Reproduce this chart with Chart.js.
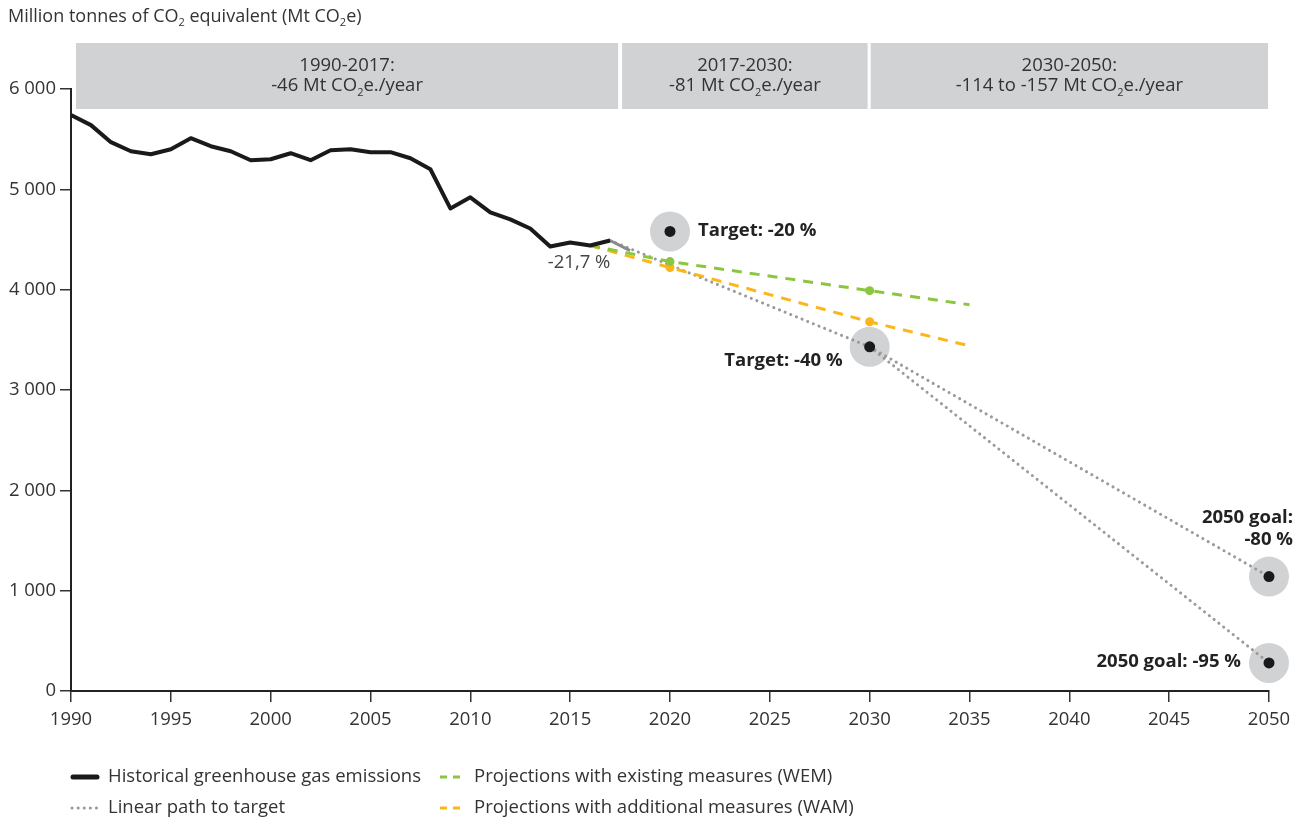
<!DOCTYPE html>
<html lang="en">
<head>
  <meta charset="UTF-8" />
  <title>Greenhouse gas emissions, projections and targets</title>
  <script src="https://cdn.jsdelivr.net/npm/chart.js"></script>
  <style>
    html, body {
      margin: 0;
      padding: 0;
      background: #ffffff;
    }
    .wrap {
      width: 1306px;
      height: 825px;
    }
  </style>
</head>
<body>
  <div class="wrap"><canvas id="ghgChart" width="1306" height="825"></canvas></div>

  <script>
    // historical emissions, Mt CO2e
    const histYears = [1990, 1991, 1992, 1993, 1994, 1995, 1996, 1997, 1998, 1999,
                       2000, 2001, 2002, 2003, 2004, 2005, 2006, 2007, 2008, 2009,
                       2010, 2011, 2012, 2013, 2014, 2015, 2016, 2017];
    const histValues = [5740, 5640, 5470, 5380, 5350, 5400, 5510, 5430, 5380, 5290,
                        5300, 5360, 5290, 5390, 5400, 5370, 5370, 5310, 5200, 4810,
                        4920, 4770, 4700, 4610, 4430, 4470, 4440, 4490];

    // proxy estimate
    const proxyYears = [2017, 2018];
    const proxyValues = [4490, 4390];

    // linear paths to target
    const path80Years = [2017, 2030, 2050];
    const path80Values = [4490, 3430, 1140];
    const path95Years = [2030, 2050];
    const path95Values = [3430, 280];

    // projections
    const projYears = [2016, 2020, 2030, 2035];
    const wemValues = [4440, 4280, 3990, 3850];
    const wamValues = [4440, 4220, 3680, 3440];

    // targets
    const targetYears = [2020, 2030, 2050, 2050];
    const targetValues = [4580, 3430, 1140, 280];
    const targetLabels = [['Target: -20 %'], ['Target: -40 %'], ['2050 goal:', '-80 %'], ['2050 goal: -95 %']];

    // period boxes
    const periodFrom = [1990, 2017, 2030];
    const periodTo = [2017, 2030, 2050];
    const periodNames = ['1990-2017:', '2017-2030:', '2030-2050:'];
    const periodRates = ['-46 Mt CO₂e./year', '-81 Mt CO₂e./year', '-114 to -157 Mt CO₂e./year'];

    const yTicks = [0, 1000, 2000, 3000, 4000, 5000, 6000];
    const xTicks = [1990, 1995, 2000, 2005, 2010, 2015, 2020, 2025, 2030, 2035, 2040, 2045, 2050];

    const FONT = '"Open Sans", "Noto Sans", sans-serif';
    const GREEN = '#8cc63f';
    const ORANGE = '#fbb61a';
    const DOTGREY = '#9a9a9a';
    const TXT = 18.5;

    const pts = (xs, ys) => xs.map((x, i) => ({ x: x, y: ys[i] }));
    const fmt = v => String(v).replace(/\B(?=(\d{3})+(?!\d))/g, ' ');

    // draw text where "₂" becomes a small lowered 2
    function drawSub(ctx, str, x, y, size, weight, align, color) {
      const base = weight + ' ' + size + 'px ' + FONT;
      const sub = weight + ' ' + Math.round(size * 0.62) + 'px ' + FONT;
      const parts = str.split('₂');
      let total = 0;
      parts.forEach((p, i) => {
        ctx.font = base; total += ctx.measureText(p).width;
        if (i < parts.length - 1) { ctx.font = sub; total += ctx.measureText('2').width; }
      });
      let cx = align === 'center' ? x - total / 2 : align === 'right' ? x - total : x;
      ctx.textAlign = 'left';
      ctx.textBaseline = 'middle';
      ctx.fillStyle = color;
      parts.forEach((p, i) => {
        ctx.font = base; ctx.fillText(p, cx, y); cx += ctx.measureText(p).width;
        if (i < parts.length - 1) {
          ctx.font = sub; ctx.fillText('2', cx, y + size * 0.35); cx += ctx.measureText('2').width;
        }
      });
    }

    const decor = {
      id: 'decor',
      afterDraw(chart) {
        const ctx = chart.ctx;
        const xs = chart.scales.x, ys = chart.scales.y;
        const top = chart.chartArea.top;
        ctx.save();

        // axis title
        drawSub(ctx, 'Million tonnes of CO₂ equivalent (Mt CO₂e)', 8, 17, 18, 'normal', 'left', '#333');

        // period boxes
        const padL = [5, 12, 1], padR = [-8, 2, 1];
        periodFrom.forEach((f, i) => {
          const l = xs.getPixelForValue(f) + padL[i];
          const r = xs.getPixelForValue(periodTo[i]) - padR[i];
          ctx.fillStyle = '#d1d2d4';
          ctx.fillRect(l, top - 46, r - l, 66);
          const c = (l + r) / 2;
          drawSub(ctx, periodNames[i], c, top - 23, TXT, 'normal', 'center', '#333');
          drawSub(ctx, periodRates[i], c, top - 3, TXT, 'normal', 'center', '#333');
        });

        // target labels
        const tp = targetYears.map((yr, i) => ({ x: xs.getPixelForValue(yr), y: ys.getPixelForValue(targetValues[i]) }));
        drawSub(ctx, targetLabels[0][0], tp[0].x + 28, tp[0].y - 1, TXT, 'bold', 'left', '#222');
        drawSub(ctx, targetLabels[1][0], tp[1].x - 27, tp[1].y + 14, TXT, 'bold', 'right', '#222');
        drawSub(ctx, targetLabels[2][0], tp[2].x + 24, tp[2].y - 59, TXT, 'bold', 'right', '#222');
        drawSub(ctx, targetLabels[2][1], tp[2].x + 24, tp[2].y - 37, TXT, 'bold', 'right', '#222');
        drawSub(ctx, targetLabels[3][0], tp[3].x - 28, tp[3].y - 1, TXT, 'bold', 'right', '#222');

        // 2017 change label
        const lx = xs.getPixelForValue(2017), ly = ys.getPixelForValue(4490);
        drawSub(ctx, '-21,7 %', lx - 31, ly + 22, TXT, 'normal', 'center', '#444');

        // legend
        const rows = [
          [{ ds: 0, x: 70 }, { ds: 4, x: 440 }],
          [{ ds: 2, x: 70 }, { ds: 5, x: 440 }]
        ];
        const rowY = [777, 808];
        rows.forEach((row, r) => {
          row.forEach(item => {
            const d = chart.data.datasets[item.ds];
            const y = rowY[r];
            ctx.save();
            ctx.strokeStyle = d.borderColor;
            ctx.lineCap = d.borderCapStyle || 'butt';
            ctx.lineWidth = d.borderWidth;
            ctx.setLineDash(d.borderDash || []);
            ctx.beginPath();
            if (item.ds === 0) { ctx.lineWidth = 5; ctx.lineCap = 'round'; ctx.moveTo(item.x + 3, y); ctx.lineTo(item.x + 27, y); }
            else if (item.ds === 2) { ctx.moveTo(item.x + 2, y); ctx.lineTo(item.x + 27, y); }
            else { ctx.setLineDash([7, 6]); ctx.moveTo(item.x, y); ctx.lineTo(item.x + 22, y); }
            ctx.stroke();
            ctx.restore();
            const tx = item.x < 200 ? 108 : 474;
            drawSub(ctx, d.label, tx, y, TXT, 'normal', 'left', '#333');
          });
        });

        ctx.restore();
      }
    };

    const ctx = document.getElementById('ghgChart').getContext('2d');
    const chart = new Chart(ctx, {
      type: 'line',
      data: {
        datasets: [
          {
            label: 'Historical greenhouse gas emissions',
            data: pts(histYears, histValues),
            borderColor: '#1a1a1a', borderWidth: 4, pointRadius: 0,
            borderJoinStyle: 'round', order: 3
          },
          {
            label: 'Proxy',
            data: pts(proxyYears, proxyValues),
            borderColor: '#8a8a8a', borderWidth: 3, pointRadius: 0, order: 4
          },
          {
            label: 'Linear path to target',
            data: pts(path80Years, path80Values),
            borderColor: DOTGREY, borderWidth: 3, borderDash: [0.1, 6], borderCapStyle: 'round',
            pointRadius: 0, order: 6
          },
          {
            label: 'Linear path to target (-95 %)',
            data: pts(path95Years, path95Values),
            borderColor: DOTGREY, borderWidth: 3, borderDash: [0.1, 6], borderCapStyle: 'round',
            pointRadius: 0, order: 6
          },
          {
            label: 'Projections with existing measures (WEM)',
            data: pts(projYears, wemValues),
            borderColor: GREEN, backgroundColor: GREEN, borderWidth: 3, borderDash: [10, 8],
            pointRadius: [0, 4.5, 4.5, 0], pointBorderWidth: 0, order: 5
          },
          {
            label: 'Projections with additional measures (WAM)',
            data: pts(projYears, wamValues),
            borderColor: ORANGE, backgroundColor: ORANGE, borderWidth: 3, borderDash: [10, 8],
            pointRadius: [0, 4.5, 4.5, 0], pointBorderWidth: 0, order: 5
          },
          {
            label: 'Target halo',
            data: pts(targetYears, targetValues),
            showLine: false, pointRadius: 20, pointBorderWidth: 0, clip: false,
            backgroundColor: '#d1d2d4', borderColor: '#d1d2d4', order: 10
          },
          {
            label: 'Target',
            data: pts(targetYears, targetValues),
            showLine: false, pointRadius: 5.5, pointBorderWidth: 0, clip: false,
            backgroundColor: '#1a1a1a', borderColor: '#1a1a1a', order: 0
          }
        ]
      },
      options: {
        responsive: false,
        animation: false,
        layout: { padding: { left: 0, top: 89, right: 37, bottom: 89 } },
        plugins: {
          legend: { display: false },
          tooltip: { enabled: false }
        },
        scales: {
          x: {
            type: 'linear', min: 1990, max: 2050,
            afterFit: s => { s.height = 45; },
            afterBuildTicks: s => { s.ticks = xTicks.map(v => ({ value: v })); },
            ticks: { font: { family: FONT, size: TXT }, color: '#333', padding: 7, callback: v => String(v), maxRotation: 0 },
            grid: { drawOnChartArea: false, tickLength: 11, color: '#333', lineWidth: 1.5 },
            border: { color: '#222', width: 2 }
          },
          y: {
            min: 0, max: 6000,
            afterFit: s => { s.width = 71; },
            afterBuildTicks: s => { s.ticks = yTicks.map(v => ({ value: v })); },
            ticks: { font: { family: FONT, size: TXT }, color: '#333', padding: 4, callback: v => fmt(v) },
            grid: { drawOnChartArea: false, tickLength: 11, color: '#333', lineWidth: 1.5 },
            border: { color: '#222', width: 2 }
          }
        }
      },
      plugins: [decor]
    });
  </script>
</body>
</html>
